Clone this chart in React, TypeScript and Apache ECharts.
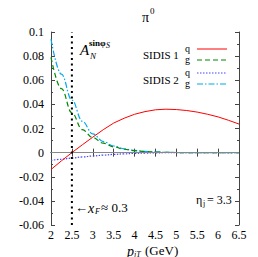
import React, { useEffect, useRef } from "react";
import * as echarts from "echarts";

const xValues = [2, 2.25, 2.5, 2.75, 3, 3.25, 3.5, 3.75, 4, 4.25, 4.5, 4.75, 5, 5.25, 5.5, 5.75, 6, 6.25, 6.5];
const sidis1Q = [-0.014, -0.0068, 0.0, 0.0065, 0.0128, 0.019, 0.0245, 0.0285, 0.0318, 0.034, 0.0355, 0.036, 0.0357, 0.0349, 0.0336, 0.0318, 0.0296, 0.0268, 0.0237];
const sidis1G = [0.079, 0.053, 0.033, 0.019, 0.0125, 0.0078, 0.0048, 0.0028, 0.0016, 0.0009, 0.0005, 0.0002, 0.0001, 0, 0, 0, 0, 0, 0];
const sidis2Q = [-0.0065, -0.0055, -0.0045, -0.0036, -0.0028, -0.0021, -0.0015, -0.001, -0.0006, -0.0004, -0.0002, -0.0001, 0, 0, 0, 0, 0, 0, 0];
const sidis2G = [0.094, 0.065, 0.0436, 0.026, 0.0155, 0.0092, 0.0055, 0.0032, 0.0018, 0.001, 0.0005, 0.0002, 0.0001, 0, 0, 0, 0, 0, 0];
const xFLine = [[2.5, -0.06], [2.5, 0.1]];
const yTickLabels: Record<string, string> = {
  "-0.06": "-0.06", "-0.04": "-0.04", "-0.02": "-0.02", "0": "0",
  "0.02": "0.02", "0.04": "0.04", "0.06": "0.06", "0.08": "0.08", "0.1": "0.1",
};

const FONT = "Liberation Serif";

export default function App() {
  const ref = useRef<HTMLDivElement>(null);
  useEffect(() => {
    const chart = echarts.init(ref.current!, null, { renderer: "svg" });
    const pair = (ys: number[]) => xValues.map((x, i) => [x, ys[i]]);
    const axisCommon = {
      axisLine: { show: true, lineStyle: { color: "#444", width: 1 } },
      axisTick: { show: true, inside: true, length: 4, lineStyle: { color: "#444" } },
      splitLine: { show: false },
    };
    const txt = (text: string, x: number, y: number, size: number, extra: any = {}) => ({
      type: "text",
      x,
      y,
      style: { text, fontFamily: FONT, fontSize: size, fill: "#000", textVerticalAlign: "middle", ...extra },
      z: 100,
    });
    const smoothLine = { showSymbol: false, smooth: 0.4, smoothMonotone: "x" };
    chart.setOption({
      animation: false,
      backgroundColor: "#fff",
      grid: { left: 51, right: 19, top: 32, bottom: 32, containLabel: false },
      xAxis: [
        {
          type: "value", min: 2, max: 6.5, interval: 0.5, position: "bottom",
          ...axisCommon,
          axisLabel: { color: "#000", fontFamily: FONT, fontSize: 12, margin: 4, formatter: (v: number) => String(v) },
        },
        {
          type: "value", min: 2, max: 6.5, interval: 0.5, position: "top",
          ...axisCommon, axisLabel: { show: false },
        },
      ],
      yAxis: [
        {
          type: "value", min: -0.06, max: 0.1, interval: 0.02, position: "left",
          ...axisCommon,
          minorTick: { show: true, splitNumber: 2, length: 2, lineStyle: { color: "#444" } },
          axisLabel: {
            color: "#000", fontFamily: FONT, fontSize: 12, margin: 7,
            formatter: (v: number) => yTickLabels[String(Math.round(v * 100) / 100)] ?? String(v),
          },
        },
        {
          type: "value", min: -0.06, max: 0.1, interval: 0.02, position: "right",
          ...axisCommon,
          minorTick: { show: true, splitNumber: 2, length: 2, lineStyle: { color: "#444" } },
          axisLabel: { show: false },
        },
      ],
      series: [
        {
          name: "SIDIS 1 q", type: "line", data: pair(sidis1Q), showSymbol: false, smooth: false,
          lineStyle: { color: "#ff0000", width: 1 },
          markLine: {
            silent: true, symbol: "none", label: { show: false },
            lineStyle: { color: "#888", width: 1, type: "solid" },
            data: [{ yAxis: 0 }],
          },
          z: 5,
        },
        {
          name: "SIDIS 1 g", type: "line", data: pair(sidis1G), ...smoothLine,
          lineStyle: { color: "#008800", width: 1.2, type: [5, 3] }, z: 4,
        },
        {
          name: "SIDIS 2 q", type: "line", data: pair(sidis2Q), ...smoothLine,
          lineStyle: { color: "#4444ff", width: 1.2, type: [1.5, 1.5] }, z: 3,
        },
        {
          name: "SIDIS 2 g", type: "line", data: pair(sidis2G), ...smoothLine,
          lineStyle: { color: "#00aaee", width: 1.2, type: [6, 2, 1.5, 2] }, z: 3,
        },
        {
          name: "xF", type: "line", data: xFLine, showSymbol: false,
          lineStyle: { color: "#000", width: 2, type: [2, 3.5] }, z: 6,
        },
      ],
      graphic: [
        txt("π", 142, 17, 14),
        txt("0", 150, 11, 9),
        txt("A", 80, 50, 15, { fontStyle: "italic" }),
        txt("N", 90, 56, 9, { fontStyle: "italic" }),
        txt("sinφ", 89, 43, 9, { fontWeight: "bold" }),
        txt("S", 106, 45, 8, { fontStyle: "italic" }),
        txt("SIDIS 1", 143, 55, 11),
        txt("q", 185, 48.5, 10),
        txt("g", 185, 59.5, 10),
        txt("SIDIS 2", 143, 80, 11),
        txt("q", 185, 72.5, 10),
        txt("g", 185, 83.5, 10),
        { type: "line", shape: { x1: 197, y1: 49, x2: 227, y2: 49 }, style: { stroke: "#ff0000", lineWidth: 1 }, z: 100 },
        { type: "line", shape: { x1: 197, y1: 60, x2: 227, y2: 60 }, style: { stroke: "#008800", lineWidth: 1.2, lineDash: [5, 3] }, z: 100 },
        { type: "line", shape: { x1: 197, y1: 73, x2: 227, y2: 73 }, style: { stroke: "#4444ff", lineWidth: 1.2, lineDash: [1.5, 1.5] }, z: 100 },
        { type: "line", shape: { x1: 197, y1: 84, x2: 227, y2: 84 }, style: { stroke: "#00aaee", lineWidth: 1.2, lineDash: [6, 2, 1.5, 2] }, z: 100 },
        txt("←", 75, 207, 13),
        txt("x", 88, 208, 14, { fontStyle: "italic" }),
        txt("F", 95, 211, 8, { fontStyle: "italic" }),
        txt("≈ 0.3", 101, 207, 13),
        txt("η", 196, 200, 12),
        txt("j", 203, 203, 8),
        txt("= 3.3", 207, 200, 12),
        txt("p", 127, 251, 14, { fontStyle: "italic" }),
        txt("jT", 134, 254, 8, { fontStyle: "italic" }),
        txt("(GeV)", 145, 250, 13),
      ],
    });
    return () => chart.dispose();
  }, []);
  return <div ref={ref} style={{ position: "fixed", left: 0, top: 0, width: 258, height: 257 }} />;
}
